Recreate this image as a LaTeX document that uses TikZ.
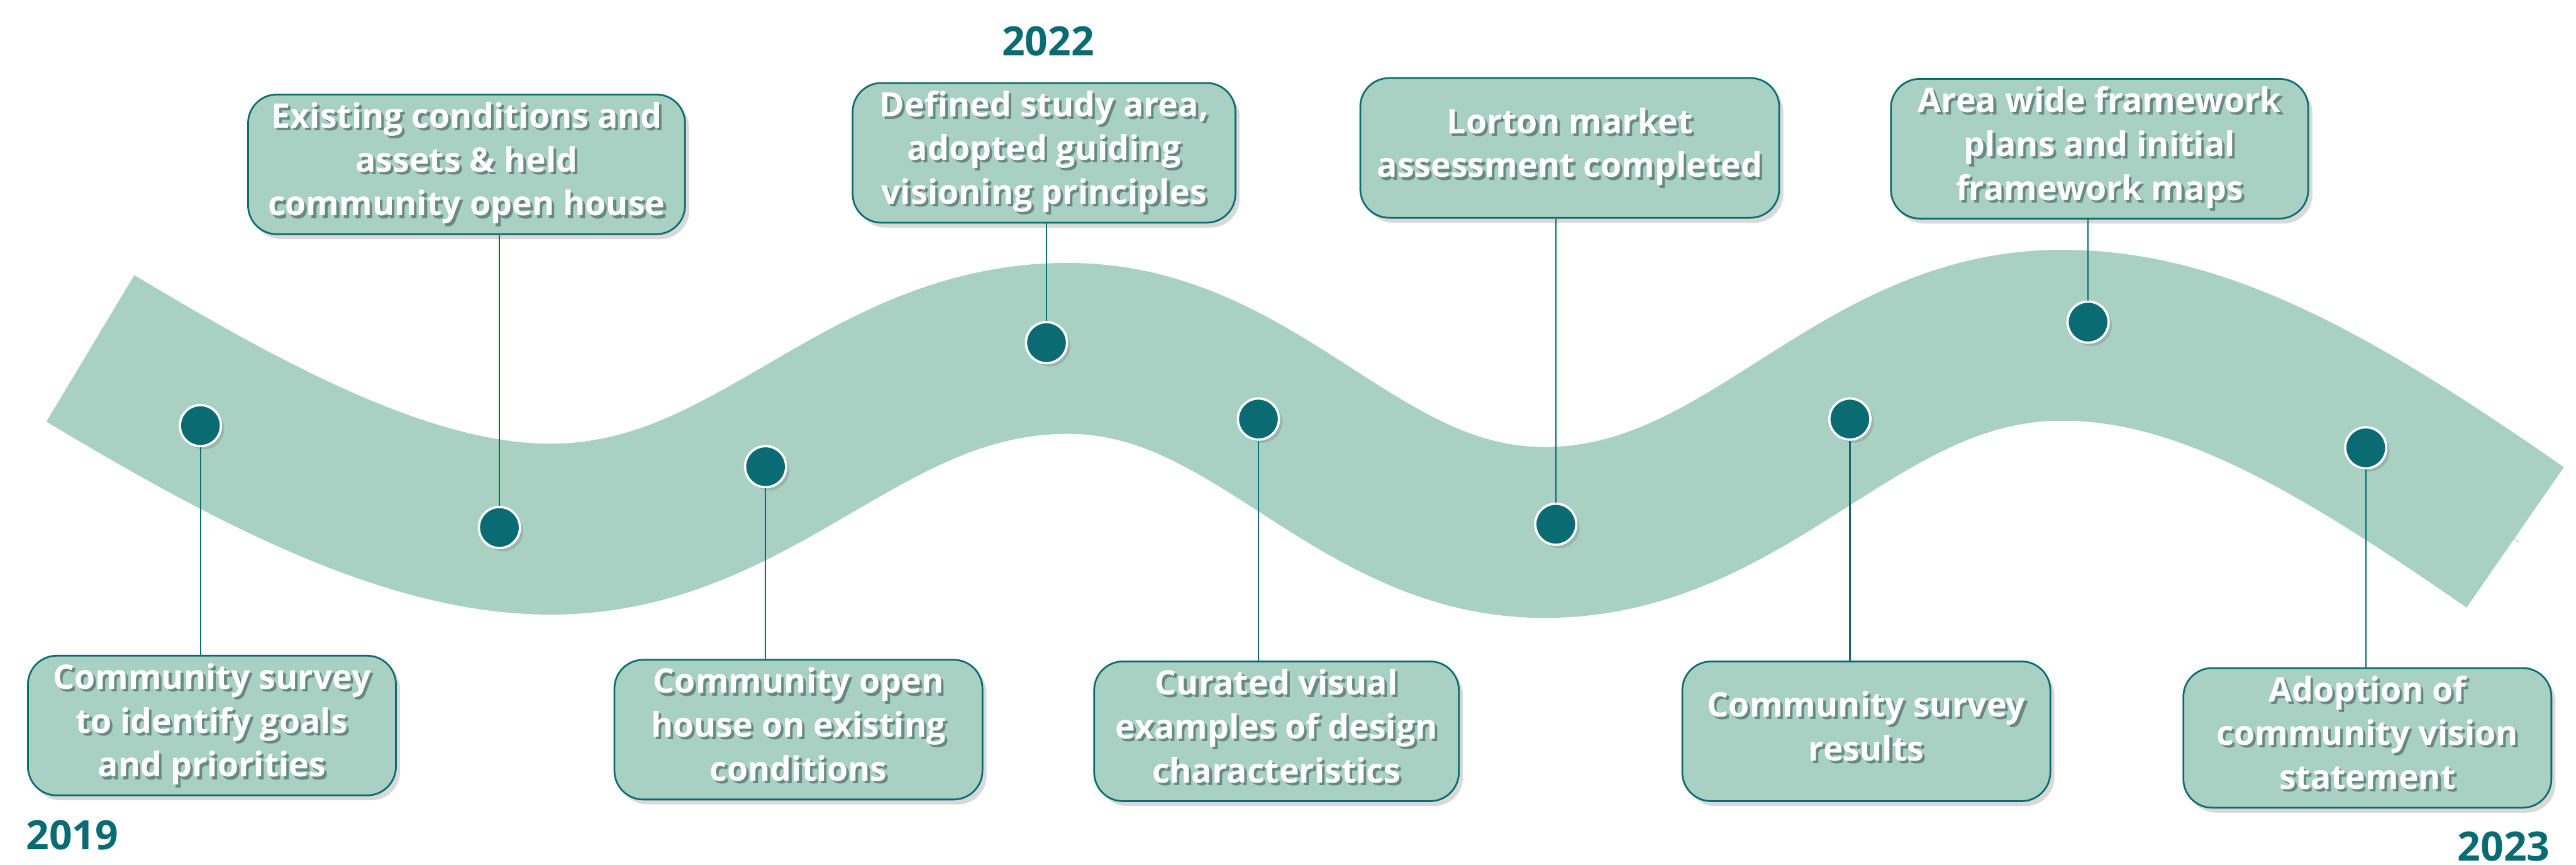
\documentclass[tikz,border=0pt]{standalone}
\usepackage{fontspec}
\newfontfamily\labelfont{Open Sans}
\usetikzlibrary{shadows}

\definecolor{bandgreen}{RGB}{168,209,196}
\definecolor{darkteal}{RGB}{11,107,114}
\definecolor{txtshadow}{RGB}{104,136,128}

% weisser Text mit leichtem Schatten
\newcommand{\shtext}[1]{%
  \rlap{\kern0.9pt\raisebox{-0.9pt}{\color{txtshadow}\begin{tabular}{@{}c@{}}#1\end{tabular}}}%
  \begin{tabular}{@{}c@{}}#1\end{tabular}}

\begin{document}
\begin{tikzpicture}[x=0.2mm, y=-0.2mm,
    band/.style={draw=bandgreen, line width=20.8mm},
    event/.style={draw=darkteal, line width=0.6pt, fill=bandgreen, rounded corners=3.5mm,
      minimum height=17mm, inner sep=0pt, text=white,
      font=\labelfont\bfseries\fontsize{11.7}{15.2}\selectfont,
      drop shadow={shadow xshift=0.5mm, shadow yshift=-0.6mm, opacity=.3}},
    dot/.style={circle, fill=darkteal, draw=white, line width=0.8pt, minimum size=5mm,
      inner sep=0pt, drop shadow={shadow xshift=0.4mm, shadow yshift=-0.4mm, opacity=.35}},
    link/.style={darkteal, line width=0.5pt},
    year/.style={text=darkteal, inner sep=0pt,
      font=\labelfont\bfseries\fontsize{14}{16}\selectfont}]
    \useasboundingbox (0,0) rectangle (1568,526);
    % Band zeichnen
    \draw[band, preaction={draw=black!45, opacity=.35,
        transform canvas={shift={(0.5mm,-0.6mm)}}}]
      (55,212) .. controls (155,272) and (250,322) .. (335,322)
      .. controls (461,322) and (524,212) .. (650,212)
      .. controls (766,212) and (824,324) .. (940,324)
      .. controls (1066,324) and (1129,204) .. (1255,204)
      .. controls (1340,204) and (1420,250) .. (1531,327);
    % Kaesten
    \node[event, minimum width=44.8mm] (b1) at (129,441.5) {\shtext{Community survey\\to identify goals\\and priorities}};
    \node[event, minimum width=53.2mm] (b2) at (284,100) {\shtext{Existing conditions and\\assets \& held\\community open house}};
    \node[event, minimum width=44.8mm] (b3) at (486,444) {\shtext{Community open\\house on existing\\conditions}};
    \node[event, minimum width=46.6mm] (b4) at (635.5,93) {\shtext{Defined study area,\\adopted guiding\\visioning principles}};
    \node[event, minimum width=44.4mm] (b5) at (777,445) {\shtext{Curated visual\\examples of design\\characteristics}};
    \node[event, minimum width=51mm] (b6) at (955.5,90) {\shtext{Lorton market\\assessment completed}};
    \node[event, minimum width=44.8mm] (b7) at (1136,445) {\shtext{Community survey\\results}};
    \node[event, minimum width=50.8mm] (b8) at (1278,90.5) {\shtext{Area wide framework\\plans and initial\\framework maps}};
    \node[event, minimum width=44.8mm] (b9) at (1441,449) {\shtext{Adoption of\\community vision\\statement}};
    % Punkte auf dem Band
    \foreach \n/\x/\y in {1/122/259, 2/304/321, 3/466/284, 4/637/208.5, 5/766/255,
        6/947/319, 7/1126/255, 8/1271/196, 9/1440/272.5}
      \node[dot] (d\n) at (\x,\y) {};
    % Verbindungslinien
    \foreach \n in {1,3,5,7,9} \draw[link] (d\n.south) -- (d\n |- b\n.north);
    \foreach \n in {2,4,6,8} \draw[link] (d\n.north) -- (d\n |- b\n.south);
    % Jahreszahlen
    \node[year] (y2019) at (44,508) {2019};
    \node[year] (y2022) at (638,25) {2022};
    \node[year] (y2023) at (1524,515) {2023};
\end{tikzpicture}
\end{document}
